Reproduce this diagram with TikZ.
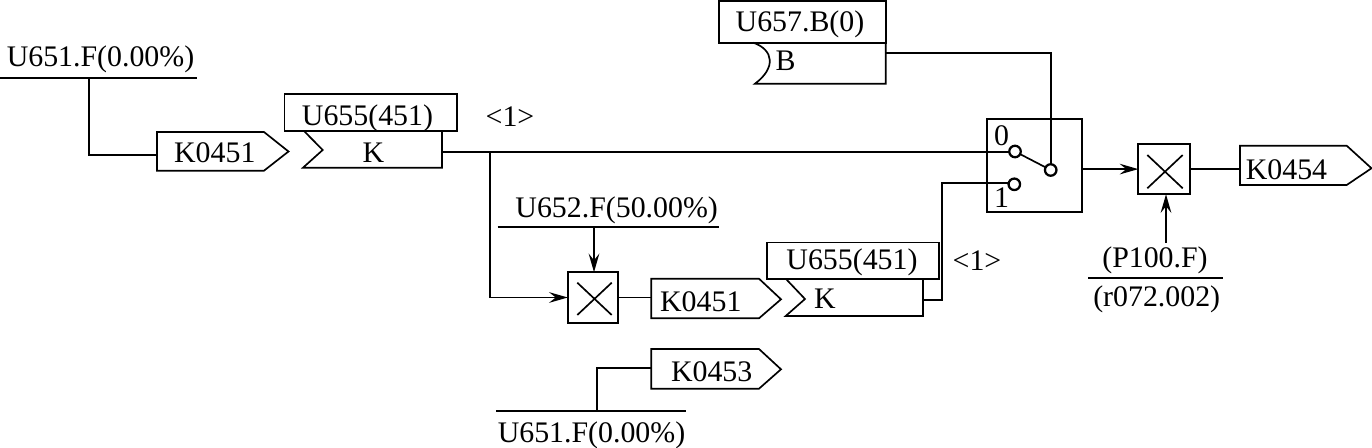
\documentclass[tikz,border=0pt]{standalone}
\usepackage{fontspec}
\setmainfont{Liberation Serif}
\usetikzlibrary{arrows.meta}
\newdimen\pxu \pxu=0.75pt
\tikzset{
  x=0.75pt,y=-0.75pt,
  every node/.style={inner sep=0pt,outer sep=0pt,font=\fontsize{22.4}{24}\selectfont,text=black},
  lbl/.style={anchor=base},
  ln/.style={line width=1.25pt,line join=miter},
  wire/.style={ln},
  arw/.style={ln,-{Stealth[length=14pt,width=8pt,inset=5pt]}},
  boxn/.style={draw,ln,rectangle},
  mult/.style={boxn},
  sw/.style={circle,draw,line width=1.7pt,fill=white,minimum size=11.5\pxu},
}
% name, x0, ytop, ybot, notch, tip, tip y, input y
\newcommand{\tagshape}[8]{%
  \draw[ln] (#2,#3) -- (#5,#3) -- (#6,#7) -- (#5,#4) -- (#2,#4) -- cycle;
  \coordinate (#1) at (#2,#8);
}
\begin{document}
\begin{tikzpicture}
\useasboundingbox (0,0) rectangle (1372,448);
% top-left source
\node[lbl] (t1) at (100.5,67) {U651.F(0.00\%)};
\coordinate (b1a) at (0,77.7); \coordinate (b1b) at (197,77.7);
\draw[ln] (b1a) -- (b1b);
\coordinate (j1) at (89.3,77.7);
\tagshape{tagA}{157}{132}{170.7}{264}{288.5}{151.5}{155}
\node[lbl] (tagAt) at (214.8,162.5) {K0451};
\draw[wire] (j1) |- (tagA);
% U655 block upper
\node[boxn,minimum width=172.5\pxu,minimum height=36.7\pxu] (u1) at (370.7,112.5) {};
\node[lbl] at (367.5,126) {U655(451)};
\draw[ln] (304,131) -- (322.7,150) -- (303,167.7) -- (442,167.7) -- (442,131);
\node[lbl] (k1) at (373.5,163) {K};
\node[lbl] (one1) at (510,127) {<1>};
\coordinate (o1) at (442,151.7);
\coordinate (j2) at (489.8,151.7);
% U657
\node[boxn,minimum width=166.4\pxu,minimum height=41.7\pxu] (u3) at (802.5,21.9) {};
\node[lbl] at (800,32) {U657.B(0)};
\draw[ln] (753.3,42.7) .. controls (774,50) and (776,68) .. (755,83.7) -- (885.7,83.7) -- (885.7,42.7);
\node[lbl] (bb) at (785.7,71) {B};
\coordinate (o3) at (885.7,52.7);
% switch
\node[boxn,minimum width=94.7\pxu,minimum height=92.7\pxu] (swb) at (1034.6,165.4) {};
\node[lbl] (s0t) at (1001.7,145.3) {0};
\node[lbl] (s1t) at (1001.7,207.7) {1};
\node[sw] (c0) at (1015,151.5) {};
\node[sw] (c1) at (1014.3,184.3) {};
\node[sw] (c2) at (1050.7,170) {};
\draw[ln] (c0) -- (c2);
\draw[wire] (o1) -- (c0.west |- o1);
\draw[wire] (o3) -| (c2.north);
% mult 1
\node[lbl] (u2t) at (616.7,217.7) {U652.F(50.00\%)};
\coordinate (l2a) at (497.7,226.7); \coordinate (l2b) at (719,226.7);
\draw[ln] (l2a) -- (l2b);
\node[mult,minimum width=50.5\pxu,minimum height=50.5\pxu] (m1) at (593,297.5) {};
\draw[ln] (577.3,282.7) -- (611.7,315) (577.3,315) -- (611.7,282.7);
\coordinate (a1) at (594,226.7);
\draw[arw] (a1) -- (a1 |- m1.north);
\draw[arw] (j2) |- (m1.west);
\tagshape{tagB}{651.3}{278.7}{318.3}{759}{781}{299.3}{297.5}
\node[lbl] at (700.8,312) {K0451};
\draw[wire] (m1.east) -- (tagB);
% U655 lower
\node[boxn,minimum width=172\pxu,minimum height=36.7\pxu] (u4) at (852.7,260.7) {};
\node[lbl] at (852,270) {U655(451)};
\draw[ln] (786,279) -- (805,299) -- (785.7,316) -- (923,316) -- (923,279);
\node[lbl] (k2) at (825,309) {K};
\node[lbl] (one2) at (977,271) {<1>};
\coordinate (o4) at (923,299.7);
\coordinate (t4) at (941.7,299.7);
\coordinate (t5) at (941.7,182.7);
\draw[wire] (o4) -- (t4) -- (t5) -- (c1.west |- t5);
% K0453
\tagshape{tagC}{651.3}{349}{388.7}{759}{781}{369.3}{367.7}
\node[lbl] at (711.7,381.7) {K0453};
\coordinate (b5a) at (496,410.7); \coordinate (b5b) at (686,410.7);
\draw[ln] (b5a) -- (b5b);
\coordinate (j5) at (596.7,410.7);
\draw[wire] (j5) |- (tagC);
\node[lbl] (t5b) at (591.5,442.7) {U651.F(0.00\%)};
% mult 2
\node[mult,minimum width=51.4\pxu,minimum height=50.3\pxu] (m2) at (1164,169.1) {};
\draw[ln] (1147.3,155) -- (1182.7,188.3) (1147.3,188.3) -- (1182.7,155);
\draw[arw] (swb.east |- m2) -- (m2.west);
\tagshape{tagD}{1240}{145.7}{185}{1346.7}{1371.5}{168.3}{169.1}
\node[lbl] at (1286.5,179.3) {K0454};
\draw[wire] (m2.east) -- (tagD);
\node[lbl] (pt) at (1155,267.5) {(P100.F)};
\node[lbl] (pb) at (1156.7,306.3) {(r072.002)};
\coordinate (l6a) at (1088.3,277.7); \coordinate (l6b) at (1222.7,277.7);
\draw[ln] (l6a) -- (l6b);
\coordinate (a6) at (1166,242.7);
\draw[arw] (a6) -- (a6 |- m2.south);
\end{tikzpicture}
\end{document}
